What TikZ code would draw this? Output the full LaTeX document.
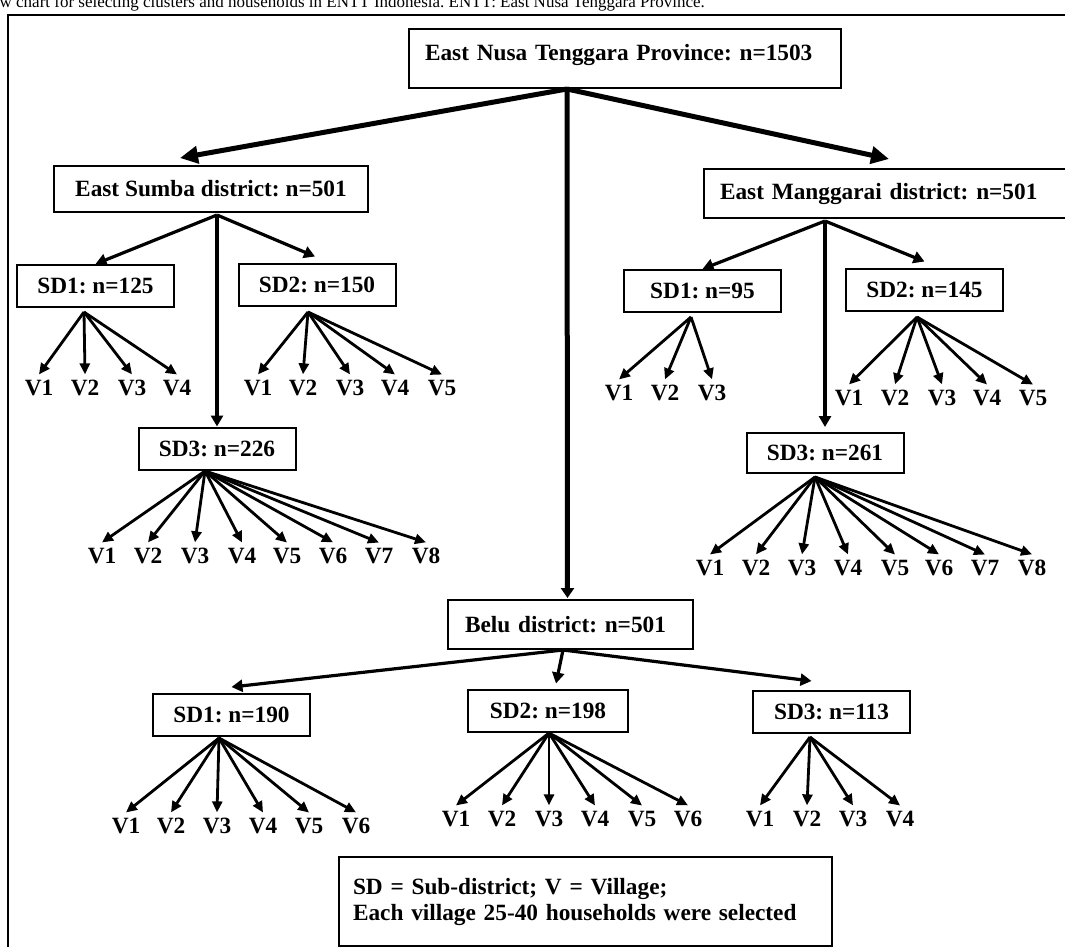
\documentclass[tikz,border=0pt]{standalone}
\usepackage{fontspec}
\setmainfont{Liberation Serif}
\usetikzlibrary{arrows.meta,calc}
\frenchspacing

\newcommand{\boxfont}{\bfseries\fontsize{23.3}{26}\selectfont}

\begin{document}
\begin{tikzpicture}[x=1pt, y=-1pt,
    box/.style={draw, line width=2pt, font=\boxfont, inner sep=0pt,
        minimum width=157pt, minimum height=42pt},
    village/.style={font=\boxfont, inner sep=5pt, anchor=base},
    bigarrow/.style={line width=5pt, -{Triangle[length=18pt, width=17pt]}},
    midarrow/.style={line width=3.2pt, -{Triangle[length=11pt, width=12pt]}},
    smallarrow/.style={line width=2.8pt, -{Triangle[length=11pt, width=10pt]}}]

    \useasboundingbox (0,0) rectangle (1065,946);
    \clip (0,0) rectangle (1065,946);

    % Caption line, cut off by the page edge
    \node[anchor=base east, inner sep=0pt, font=\fontsize{17}{20}\selectfont] (caption) at (705,7)
        {Flow chart for selecting clusters and households in ENTT Indonesia. ENTT: East Nusa Tenggara Province.};

    % Frame round the chart
    \draw[line width=2.5pt] (1080,15) -- (8,15) -- (8,960);

    % --- Province
    \node[box, anchor=base, text width=400pt, align=left, inner xsep=16pt,
        text height=31pt, text depth=28pt] (prov) at (625,60) {East Nusa Tenggara Province: n=1503};

    % --- Districts
    \node[box, minimum width=314pt, minimum height=46pt] (es) at (211,189) {East Sumba district: n=501};
    \node[box, minimum height=49pt, text width=344pt, align=left, inner xsep=16pt] (em) at (892,193.5) {East Manggarai district: n=501};
    \node[box, minimum height=49pt, text width=211pt, align=left, inner xsep=17pt] (belu) at (570.5,624.5) {Belu district: n=501};

    % Branch points under the boxes
    \coordinate (provB) at (567,89);
    \coordinate (esB) at (217,215);
    \coordinate (emB) at (825,221);
    \coordinate (beluB) at (563,650);

    % Province to districts
    \draw[bigarrow] (provB) -- ($(es.north)+(-31,-7)$);
    \draw[bigarrow] (provB) -- ($(em.north west)+(186,-9)$);
    \draw[line width=5pt, -{Triangle[length=10pt, width=13pt]}] (provB) -- ($(belu.north)+(-3,-1)$);

    % --- Sub-districts
    \node[box] (es1) at (95.5,286) {SD1: n=125};
    \node[box] (es2) at (317,284.5) {SD2: n=150};
    \node[box] (es3) at (217,448.5) {SD3: n=226};
    \node[box] (em1) at (702.5,291) {SD1: n=95};
    \node[box] (em2) at (924.5,289.5) {SD2: n=145};
    \node[box, minimum height=40pt] (em3) at (825,453) {SD3: n=261};
    \node[box] (b1) at (231.5,715) {SD1: n=190};
    \node[box, minimum width=160pt] (b2) at (548,710.5) {SD2: n=198};
    \node[box] (b3) at (831.5,712) {SD3: n=113};

    % Districts to sub-districts
    \draw[midarrow] (esB) -- (es1.north);
    \draw[midarrow] (esB) -- ($(es2.north)+(-2,-6)$);
    \draw[midarrow] (esB) -- (es3.north);
    \draw[midarrow] (emB) -- (em1.north);
    \draw[midarrow] (emB) -- ($(em2.north)+(0,-6)$);
    \draw[midarrow] (emB) -- ($(em3.north)+(0,-5)$);
    \draw[midarrow] (beluB) -- ($(b1.north)+(0,-6)$);
    \draw[midarrow] (beluB) -- ($(b2.north)+(8,-5)$);
    \draw[midarrow] (beluB) -- ($(b3.north)+(-20,-9)$);

    % Branch points under the sub-districts
    \coordinate (es1B) at (84,312);
    \coordinate (es2B) at (308,312);
    \coordinate (es3B) at (205,471);
    \coordinate (em1B) at (691,317);
    \coordinate (em2B) at (917,317);
    \coordinate (em3B) at (815,477);
    \coordinate (b1B) at (219,738);
    \coordinate (b2B) at (549,733);
    \coordinate (b3B) at (810,737);

    % --- Villages
    \foreach \x [count=\i] in {39,85,132,177} {
        \node[village] (es1v\i) at (\x,395) {V\i};
        \draw[smallarrow] (es1B) -- (es1v\i.north);
    }
    \foreach \x [count=\i] in {258,303,350,395,442} {
        \node[village] (es2v\i) at (\x,395) {V\i};
        \draw[smallarrow] (es2B) -- (es2v\i.north);
    }
    \foreach \x [count=\i] in {102,148,195,242,287,333,379,426} {
        \node[village] (es3v\i) at (\x,563) {V\i};
        \draw[smallarrow] (es3B) -- (es3v\i.north);
    }
    \foreach \x [count=\i] in {619,665,712} {
        \node[village] (em1v\i) at (\x,400) {V\i};
        \draw[smallarrow] (em1B) -- (em1v\i.north);
    }
    \foreach \x [count=\i] in {849,895,942,987,1033} {
        \node[village] (em2v\i) at (\x,405) {V\i};
        \draw[smallarrow] (em2B) -- (em2v\i.north);
    }
    \foreach \x [count=\i] in {710,756,802,848,895,939,985,1032} {
        \node[village] (em3v\i) at (\x,575) {V\i};
        \draw[smallarrow] (em3B) -- (em3v\i.north);
    }
    \foreach \x [count=\i] in {126,171,217,263,309,356} {
        \node[village] (b1v\i) at (\x,833) {V\i};
        \draw[smallarrow] (b1B) -- (b1v\i.north);
    }
    \foreach \x [count=\i] in {456,502,549,595,642,688} {
        \node[village] (b2v\i) at (\x,826) {V\i};
        \draw[smallarrow] (b2B) -- (b2v\i.north);
    }
    \foreach \x [count=\i] in {760,807,853,900} {
        \node[village] (b3v\i) at (\x,826) {V\i};
        \draw[smallarrow] (b3B) -- (b3v\i.north);
    }

    % --- Legend
    \node[box, anchor=north west, text width=465pt, align=left, inner xsep=14pt, minimum height=89pt] (legend) at (338,856)
        {SD = Sub-district; V = Village;\\Each village 25-40 households were selected};
\end{tikzpicture}
\end{document}
